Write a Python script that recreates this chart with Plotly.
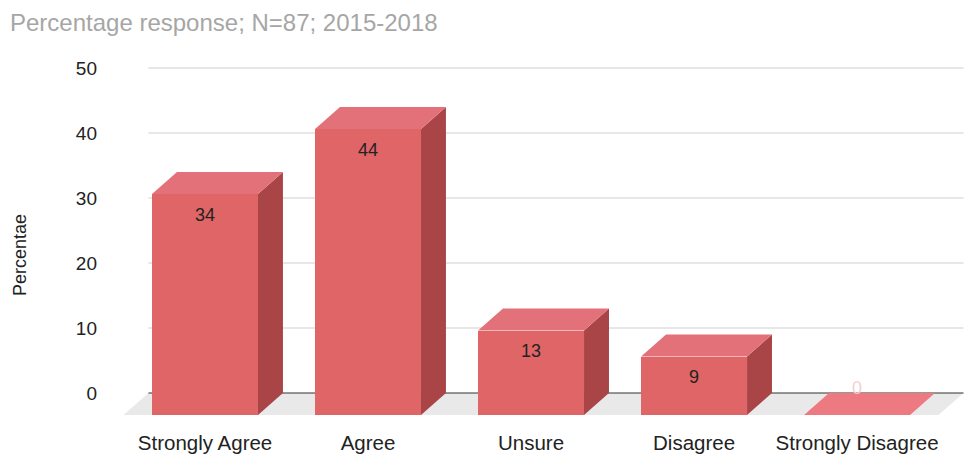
import plotly.graph_objects as go

# Survey response shares (%)
categories = ["Strongly Agree", "Agree", "Unsure", "Disagree", "Strongly Disagree"]
values = [34, 44, 13, 9, 0]
y_ticks = [0, 10, 20, 30, 40, 50]

# Pseudo-3D geometry (in axis units): bar width and depth offset of the front face
BAR_W = 0.65
DX = 0.153   # front face shifted left
DY = 3.385   # front face shifted down

FRONT = "#e06566"
TOP = "#e2717a"
SIDE = "#a94547"
ZERO_TOP = "#ec7a80"

fig = go.Figure()

x_lo, x_hi = -0.5, 4.5

# floor below the zero plane, under all bars
fig.add_shape(type="path", xref="x", yref="y", layer="below",
              path=f"M {x_lo},0 L {x_hi},0 L {x_hi - DX},{-DY} L {x_lo - DX},{-DY} Z",
              fillcolor="#e9e9e9", line=dict(width=0))

# horizontal grid on the back wall
for t in y_ticks[1:]:
    fig.add_shape(type="line", xref="x", yref="y", x0=x_lo, x1=x_hi, y0=t, y1=t,
                  line=dict(color="#cfcfcf", width=1), layer="below")
# zero line on the back wall
fig.add_shape(type="line", xref="x", yref="y", x0=x_lo, x1=x_hi, y0=0, y1=0,
              line=dict(color="#333333", width=1.2), layer="below")

# front faces
fig.add_trace(go.Bar(
    x=[i - DX for i in range(len(values))],
    y=values, base=[-DY] * len(values), width=BAR_W,
    marker=dict(color=FRONT, line=dict(width=0)),
    hoverinfo="skip", showlegend=False))

# side and top faces
for i, v in enumerate(values):
    l, r = i - BAR_W / 2, i + BAR_W / 2
    if v > 0:
        fig.add_trace(go.Scatter(
            x=[r - DX, r - DX, r, r, r - DX],
            y=[-DY, v - DY, v, 0, -DY],
            fill="toself", fillcolor=SIDE, line=dict(width=0),
            mode="lines", hoverinfo="skip", showlegend=False))
    fig.add_trace(go.Scatter(
        x=[l - DX, r - DX, r, l, l - DX],
        y=[v - DY, v - DY, v, v, v - DY],
        fill="toself", fillcolor=TOP if v > 0 else ZERO_TOP, line=dict(width=0),
        mode="lines", hoverinfo="skip", showlegend=False))

# value labels: inside the front face near its top, or above an empty bar
lab_x, lab_y, lab_c = [], [], []
for i, v in enumerate(values):
    lab_x.append(i - DX)
    if v > 0:
        lab_y.append(v - DY - 3.4)
        lab_c.append("#222222")
    else:
        lab_y.append(v + 0.6)
        lab_c.append("#f7d0d0")
fig.add_trace(go.Scatter(
    x=lab_x, y=lab_y, mode="text", text=[str(v) for v in values],
    textfont=dict(family="Liberation Sans, Arial", size=18, color=lab_c),
    hoverinfo="skip", showlegend=False, cliponaxis=False))

fig.update_layout(
    width=964, height=455,
    margin=dict(l=110, r=0, t=40, b=40),
    paper_bgcolor="white", plot_bgcolor="white",
    font=dict(family="Liberation Sans, Arial", color="#222222"),
    title=dict(text="Percentage response; N=87; 2015-2018",
               x=10 / 964, xanchor="left", xref="container",
               y=1 - 23 / 455, yanchor="middle", yref="container",
               font=dict(size=24, color="#a6a6a6")),
    bargap=0,
    xaxis=dict(range=[-0.736, 4.503], showgrid=False, zeroline=False,
               tickvals=[i - DX for i in range(len(categories))],
               ticktext=categories, tickfont=dict(size=20.5, color="#222222"),
               ticks="", showline=False, ticklabelstandoff=13),
    yaxis=dict(range=[-DY, 54.31], showgrid=False, zeroline=False,
               tickvals=y_ticks, tickfont=dict(size=19, color="#222222"),
               ticks="", showline=False, ticklabelstandoff=12),
    annotations=[dict(text="Percentae", textangle=-90, xref="paper", yref="paper",
                      x=(20 - 110) / 854, y=(415 - 255) / 375,
                      xanchor="center", yanchor="middle", showarrow=False,
                      font=dict(size=18, color="#222222"))],
)

fig.write_html("out.html")
